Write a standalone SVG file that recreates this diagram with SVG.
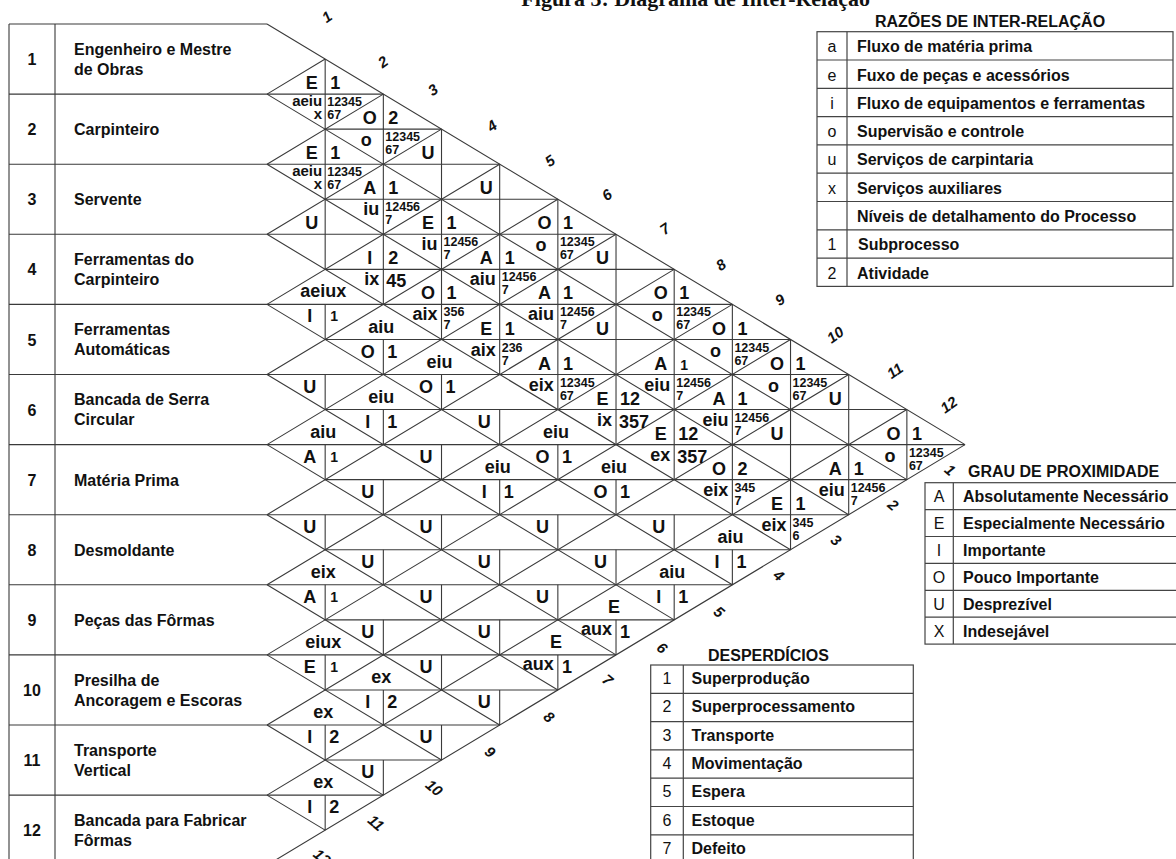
<svg xmlns="http://www.w3.org/2000/svg" width="1176" height="859" viewBox="0 0 1176 859">
<style>
.ln{stroke:#3a3a3a;stroke-width:1.1;fill:none}
.tb{stroke:#444;stroke-width:1.2;fill:none}
text{font-family:"Liberation Sans",Arial,sans-serif;font-weight:bold;fill:#111}
.lb{font-size:16px}
.nm{font-size:16px;text-anchor:middle}
.g{font-size:18px;text-anchor:middle}
.gs{font-size:14px;text-anchor:middle}
.r{font-size:18px;text-anchor:end}
.r2{font-size:15px;text-anchor:end}
.rc{font-size:18px;text-anchor:middle}
.w{font-size:12.5px}
.wb{font-size:18px}
.lk{font-size:16px;font-weight:normal;text-anchor:middle}
.en{font-size:15px;font-style:italic;text-anchor:middle}
.ti{font-family:"Liberation Serif","Times New Roman",serif;font-size:22px;text-anchor:end}
</style>
<rect width="1176" height="859" fill="#fff"/>
<text class="ti" x="870" y="6">Figura 3: Diagrama de Inter-Relação</text>

<!-- grid of the relationship triangle and the activity table -->
<g id="connectors">
<path class="ln" d="M9 24H267M9 94.1H383.34M325.17 129.15H441.51M9 164.2H499.68M325.17 199.25H557.85M9 234.3H616.02M325.17 269.35H674.19M9 304.4H732.36M325.17 339.45H790.53M9 374.5H848.7M325.17 409.55H906.87M9 444.6H965.04M325.17 479.65H906.87M9 514.7H848.7M325.17 549.75H790.53M9 584.8H732.36M325.17 619.85H674.19M9 654.9H616.02M325.17 689.95H557.85M9 725H499.68M325.17 760.05H441.51M9 795.1H383.34M9 865.2H267"/>
<path class="ln" d="M9 24V866M55 24V866"/>
<path class="ln" d="M267 24L965.04 444.6M267 94.1L906.87 479.65M267 164.2L848.7 514.7M267 234.3L790.53 549.75M267 304.4L732.36 584.8M267 374.5L674.19 619.85M267 444.6L616.02 654.9M267 514.7L557.85 689.95M267 584.8L499.68 725M267 654.9L441.51 760.05M267 725L383.34 795.1M267 795.1L325.17 830.15"/>
<path class="ln" d="M267 94.1L325.17 59.05M267 164.2L383.34 94.1M267 234.3L441.51 129.15M267 304.4L499.68 164.2M267 374.5L557.85 199.25M267 444.6L616.02 234.3M267 514.7L674.19 269.35M267 584.8L732.36 304.4M267 654.9L790.53 339.45M267 725L848.7 374.5M267 795.1L906.87 409.55M267 865.2L965.04 444.6"/>
<path class="ln" d="M325.17 59.05V269.35M325.17 304.4V339.45M325.17 374.5V409.55M325.17 444.6V479.65M325.17 514.7V549.75M325.17 584.8V619.85M325.17 654.9V689.95M325.17 725V760.05M325.17 795.1V830.15
M383.34 94.1V304.4M383.34 339.45V374.5M383.34 409.55V444.6M383.34 479.65V514.7M383.34 549.75V584.8M383.34 619.85V654.9M383.34 689.95V725M383.34 760.05V795.1
M441.51 129.15V339.45M441.51 374.5V409.55M441.51 444.6V479.65M441.51 514.7V549.75M441.51 584.8V619.85M441.51 654.9V689.95M441.51 725V760.05
M499.68 164.2V374.5M499.68 409.55V444.6M499.68 479.65V514.7M499.68 549.75V584.8M499.68 619.85V654.9M499.68 689.95V725
M557.85 199.25V409.55M557.85 444.6V479.65M557.85 514.7V549.75M557.85 584.8V619.85M557.85 654.9V689.95
M616.02 234.3V444.6M616.02 479.65V514.7M616.02 549.75V584.8M616.02 619.85V654.9
M674.19 269.35V479.65M674.19 514.7V549.75M674.19 584.8V619.85
M732.36 304.4V514.7M732.36 549.75V584.8
M790.53 339.45V549.75M848.7 374.5V514.7M906.87 409.55V479.65"/>
</g>

<!-- activities -->
<g id="act-1"><text class="nm" x="32" y="65">1</text><text class="lb" x="74" y="54.5">Engenheiro e Mestre</text><text class="lb" x="74" y="74.5">de Obras</text></g>
<g id="act-2"><text class="nm" x="32" y="135.2">2</text><text class="lb" x="74" y="135.2">Carpinteiro</text></g>
<g id="act-3"><text class="nm" x="32" y="205.3">3</text><text class="lb" x="74" y="205.3">Servente</text></g>
<g id="act-4"><text class="nm" x="32" y="275.4">4</text><text class="lb" x="74" y="264.9">Ferramentas do</text><text class="lb" x="74" y="284.9">Carpinteiro</text></g>
<g id="act-5"><text class="nm" x="32" y="345.5">5</text><text class="lb" x="74" y="335">Ferramentas</text><text class="lb" x="74" y="355">Automáticas</text></g>
<g id="act-6"><text class="nm" x="32" y="415.6">6</text><text class="lb" x="74" y="405.1">Bancada de Serra</text><text class="lb" x="74" y="425.1">Circular</text></g>
<g id="act-7"><text class="nm" x="32" y="485.7">7</text><text class="lb" x="74" y="485.7">Matéria Prima</text></g>
<g id="act-8"><text class="nm" x="32" y="555.8">8</text><text class="lb" x="74" y="555.8">Desmoldante</text></g>
<g id="act-9"><text class="nm" x="32" y="625.9">9</text><text class="lb" x="74" y="625.9">Peças das Fôrmas</text></g>
<g id="act-10"><text class="nm" x="32" y="696">10</text><text class="lb" x="74" y="685.5">Presilha de</text><text class="lb" x="74" y="705.5">Ancoragem e Escoras</text></g>
<g id="act-11"><text class="nm" x="32" y="766.1">11</text><text class="lb" x="74" y="755.6">Transporte</text><text class="lb" x="74" y="775.6">Vertical</text></g>
<g id="act-12"><text class="nm" x="32" y="836.2">12</text><text class="lb" x="74" y="825.7">Bancada para Fabricar</text><text class="lb" x="74" y="845.7">Fôrmas</text></g>

<!-- relationship cells, rows 1-3: grade | level over reasons | wastes -->
<g id="rel-1-2"><text class="g" x="311.7" y="89.1">E</text><text class="g" x="335.2" y="89.1">1</text><text class="r2" x="322.2" y="105.6">aeiu</text><text class="r2" x="322.2" y="118.6">x</text><text class="w" x="327.2" y="106.1">12345</text><text class="w" x="327.2" y="119.1">67</text></g>
<g id="rel-1-3"><text class="g" x="369.8" y="124.2">O</text><text class="g" x="393.3" y="124.2">2</text><text class="g" x="366.3" y="146.2">o</text><text class="w" x="385.3" y="141.2">12345</text><text class="w" x="385.3" y="154.2">67</text></g>
<g id="rel-1-4"><text class="g" x="428" y="159.2">U</text></g>
<g id="rel-1-5"><text class="g" x="486.2" y="194.3">U</text></g>
<g id="rel-1-6"><text class="g" x="544.4" y="229.3">O</text><text class="g" x="567.9" y="229.3">1</text><text class="g" x="540.9" y="251.3">o</text><text class="w" x="559.9" y="246.3">12345</text><text class="w" x="559.9" y="259.3">67</text></g>
<g id="rel-1-7"><text class="g" x="602.5" y="264.4">U</text></g>
<g id="rel-1-8"><text class="g" x="660.7" y="299.4">O</text><text class="g" x="684.2" y="299.4">1</text><text class="g" x="657.2" y="321.4">o</text><text class="w" x="676.2" y="316.4">12345</text><text class="w" x="676.2" y="329.4">67</text></g>
<g id="rel-1-9"><text class="g" x="718.9" y="334.5">O</text><text class="g" x="742.4" y="334.5">1</text><text class="g" x="715.4" y="356.5">o</text><text class="w" x="734.4" y="351.5">12345</text><text class="w" x="734.4" y="364.5">67</text></g>
<g id="rel-1-10"><text class="g" x="777" y="369.5">O</text><text class="g" x="800.5" y="369.5">1</text><text class="g" x="773.5" y="391.5">o</text><text class="w" x="792.5" y="386.5">12345</text><text class="w" x="792.5" y="399.5">67</text></g>
<g id="rel-1-11"><text class="g" x="835.2" y="404.6">U</text></g>
<g id="rel-1-12"><text class="g" x="893.4" y="439.6">O</text><text class="g" x="916.9" y="439.6">1</text><text class="g" x="889.9" y="461.6">o</text><text class="w" x="908.9" y="456.6">12345</text><text class="w" x="908.9" y="469.6">67</text></g>

<g id="rel-2-3"><text class="g" x="311.7" y="159.2">E</text><text class="g" x="335.2" y="159.2">1</text><text class="r2" x="322.2" y="175.7">aeiu</text><text class="r2" x="322.2" y="188.7">x</text><text class="w" x="327.2" y="176.2">12345</text><text class="w" x="327.2" y="189.2">67</text></g>
<g id="rel-2-4"><text class="g" x="369.8" y="194.3">A</text><text class="g" x="393.3" y="194.3">1</text><text class="r" x="379.3" y="215.3">iu</text><text class="w" x="385.3" y="211.3">12456</text><text class="w" x="385.3" y="224.3">7</text></g>
<g id="rel-2-5"><text class="g" x="428" y="229.3">E</text><text class="g" x="451.5" y="229.3">1</text><text class="r" x="437.5" y="250.3">iu</text><text class="w" x="443.5" y="246.3">12456</text><text class="w" x="443.5" y="259.3">7</text></g>
<g id="rel-2-6"><text class="g" x="486.2" y="264.4">A</text><text class="g" x="509.7" y="264.4">1</text><text class="r" x="495.7" y="285.4">aiu</text><text class="w" x="501.7" y="281.4">12456</text><text class="w" x="501.7" y="294.4">7</text></g>
<g id="rel-2-7"><text class="g" x="544.4" y="299.4">A</text><text class="g" x="567.9" y="299.4">1</text><text class="r" x="553.9" y="320.4">aiu</text><text class="w" x="559.9" y="316.4">12456</text><text class="w" x="559.9" y="329.4">7</text></g>
<g id="rel-2-8"><text class="g" x="602.5" y="334.5">U</text></g>
<g id="rel-2-9"><text class="g" x="660.7" y="369.5">A</text><text class="gs" x="684.2" y="369.5">1</text><text class="r" x="670.2" y="390.5">eiu</text><text class="w" x="676.2" y="386.5">12456</text><text class="w" x="676.2" y="399.5">7</text></g>
<g id="rel-2-10"><text class="g" x="718.9" y="404.6">A</text><text class="g" x="742.4" y="404.6">1</text><text class="r" x="728.4" y="425.6">eiu</text><text class="w" x="734.4" y="421.6">12456</text><text class="w" x="734.4" y="434.6">7</text></g>
<g id="rel-2-11"><text class="g" x="777" y="439.6">U</text></g>
<g id="rel-2-12"><text class="g" x="835.2" y="474.7">A</text><text class="g" x="858.7" y="474.7">1</text><text class="r" x="844.7" y="495.7">eiu</text><text class="w" x="850.7" y="491.7">12456</text><text class="w" x="850.7" y="504.7">7</text></g>

<g id="rel-3-4"><text class="g" x="311.7" y="229.3">U</text></g>
<g id="rel-3-5"><text class="g" x="369.8" y="264.4">I</text><text class="g" x="393.3" y="264.4">2</text><text class="r" x="379.3" y="285.4">ix</text><text class="wb" x="386.3" y="287.4">45</text></g>
<g id="rel-3-6"><text class="g" x="428" y="299.4">O</text><text class="g" x="451.5" y="299.4">1</text><text class="r" x="437.5" y="320.4">aix</text><text class="w" x="443.5" y="316.4">356</text><text class="w" x="443.5" y="329.4">7</text></g>
<g id="rel-3-7"><text class="g" x="486.2" y="334.5">E</text><text class="g" x="509.7" y="334.5">1</text><text class="r" x="495.7" y="355.5">aix</text><text class="w" x="501.7" y="351.5">236</text><text class="w" x="501.7" y="364.5">7</text></g>
<g id="rel-3-8"><text class="g" x="544.4" y="369.5">A</text><text class="g" x="567.9" y="369.5">1</text><text class="r" x="553.9" y="390.5">eix</text><text class="w" x="559.9" y="386.5">12345</text><text class="w" x="559.9" y="399.5">67</text></g>
<g id="rel-3-9"><text class="g" x="602.5" y="404.6">E</text><text class="g" x="630" y="404.6">12</text><text class="r" x="612" y="425.6">ix</text><text class="wb" x="619" y="427.6">357</text></g>
<g id="rel-3-10"><text class="g" x="660.7" y="439.6">E</text><text class="g" x="688.2" y="439.6">12</text><text class="r" x="670.2" y="460.6">ex</text><text class="wb" x="677.2" y="462.6">357</text></g>
<g id="rel-3-11"><text class="g" x="718.9" y="474.7">O</text><text class="g" x="742.4" y="474.7">2</text><text class="r" x="728.4" y="495.7">eix</text><text class="w" x="734.4" y="491.7">345</text><text class="w" x="734.4" y="504.7">7</text></g>
<g id="rel-3-12"><text class="g" x="777" y="509.7">E</text><text class="g" x="800.5" y="509.7">1</text><text class="r" x="786.5" y="530.7">eix</text><text class="w" x="792.5" y="526.7">345</text><text class="w" x="792.5" y="539.7">6</text></g>

<!-- relationship cells, rows 4-11: reasons over grade | level -->
<g id="rel-4-5"><text class="rc" x="323.2" y="297.4">aeiux</text><text class="g" x="309.7" y="322.4">I</text><text class="gs" x="334.2" y="321.4">1</text></g>
<g id="rel-4-6"><text class="rc" x="381.3" y="332.5">aiu</text><text class="g" x="367.8" y="357.5">O</text><text class="g" x="392.3" y="357.5">1</text></g>
<g id="rel-4-7"><text class="rc" x="439.5" y="367.5">eiu</text><text class="g" x="426" y="392.5">O</text><text class="g" x="450.5" y="392.5">1</text></g>
<g id="rel-4-8"><text class="g" x="484.2" y="427.6">U</text></g>
<g id="rel-4-9"><text class="rc" x="555.9" y="437.6">eiu</text><text class="g" x="542.4" y="462.6">O</text><text class="g" x="566.9" y="462.6">1</text></g>
<g id="rel-4-10"><text class="rc" x="614" y="472.7">eiu</text><text class="g" x="600.5" y="497.7">O</text><text class="g" x="625" y="497.7">1</text></g>
<g id="rel-4-11"><text class="g" x="658.7" y="532.7">U</text></g>
<g id="rel-4-12"><text class="rc" x="730.4" y="542.8">aiu</text><text class="g" x="716.9" y="567.8">I</text><text class="g" x="741.4" y="567.8">1</text></g>
<g id="rel-5-6"><text class="g" x="309.7" y="392.5">U</text></g>
<g id="rel-5-7"><text class="rc" x="381.3" y="402.6">eiu</text><text class="g" x="367.8" y="427.6">I</text><text class="g" x="392.3" y="427.6">1</text></g>
<g id="rel-5-8"><text class="g" x="426" y="462.6">U</text></g>
<g id="rel-5-9"><text class="rc" x="497.7" y="472.7">eiu</text><text class="g" x="484.2" y="497.7">I</text><text class="g" x="508.7" y="497.7">1</text></g>
<g id="rel-5-10"><text class="g" x="542.4" y="532.7">U</text></g>
<g id="rel-5-11"><text class="g" x="600.5" y="567.8">U</text></g>
<g id="rel-5-12"><text class="rc" x="672.2" y="577.8">aiu</text><text class="g" x="658.7" y="602.8">I</text><text class="g" x="683.2" y="602.8">1</text></g>
<g id="rel-6-7"><text class="rc" x="323.2" y="437.6">aiu</text><text class="g" x="309.7" y="462.6">A</text><text class="gs" x="334.2" y="461.6">1</text></g>
<g id="rel-6-8"><text class="g" x="367.8" y="497.7">U</text></g>
<g id="rel-6-9"><text class="g" x="426" y="532.7">U</text></g>
<g id="rel-6-10"><text class="g" x="484.2" y="567.8">U</text></g>
<g id="rel-6-11"><text class="g" x="542.4" y="602.8">U</text></g>
<g id="rel-6-12"><text class="rc" x="614" y="612.9">E</text><text class="r" x="612" y="634.9">aux</text><text class="g" x="625" y="637.9">1</text></g>
<g id="rel-7-8"><text class="g" x="309.7" y="532.7">U</text></g>
<g id="rel-7-9"><text class="g" x="367.8" y="567.8">U</text></g>
<g id="rel-7-10"><text class="g" x="426" y="602.8">U</text></g>
<g id="rel-7-11"><text class="g" x="484.2" y="637.9">U</text></g>
<g id="rel-7-12"><text class="rc" x="555.9" y="647.9">E</text><text class="r" x="553.9" y="669.9">aux</text><text class="g" x="566.9" y="672.9">1</text></g>
<g id="rel-8-9"><text class="rc" x="323.2" y="577.8">eix</text><text class="g" x="309.7" y="602.8">A</text><text class="gs" x="334.2" y="601.8">1</text></g>
<g id="rel-8-10"><text class="g" x="367.8" y="637.9">U</text></g>
<g id="rel-8-11"><text class="g" x="426" y="672.9">U</text></g>
<g id="rel-8-12"><text class="g" x="484.2" y="708">U</text></g>
<g id="rel-9-10"><text class="rc" x="323.2" y="647.9">eiux</text><text class="g" x="309.7" y="672.9">E</text><text class="gs" x="334.2" y="671.9">1</text></g>
<g id="rel-9-11"><text class="rc" x="381.3" y="683">ex</text><text class="g" x="367.8" y="708">I</text><text class="g" x="392.3" y="708">2</text></g>
<g id="rel-9-12"><text class="g" x="426" y="743">U</text></g>
<g id="rel-10-11"><text class="rc" x="323.2" y="718">ex</text><text class="g" x="309.7" y="743">I</text><text class="g" x="334.2" y="743">2</text></g>
<g id="rel-10-12"><text class="g" x="367.8" y="778.1">U</text></g>
<g id="rel-11-12"><text class="rc" x="323.2" y="788.1">ex</text><text class="g" x="309.7" y="813.1">I</text><text class="g" x="334.2" y="813.1">2</text></g>

<!-- edge numbering -->
<g id="edge-top">
<text class="en" transform="translate(327 17) rotate(-35)" y="5">1</text>
<text class="en" transform="translate(383 62) rotate(-35)" y="5">2</text>
<text class="en" transform="translate(433 90) rotate(-35)" y="5">3</text>
<text class="en" transform="translate(492 126) rotate(-35)" y="5">4</text>
<text class="en" transform="translate(550 161) rotate(-35)" y="5">5</text>
<text class="en" transform="translate(607 195) rotate(-35)" y="5">6</text>
<text class="en" transform="translate(665 229) rotate(-35)" y="5">7</text>
<text class="en" transform="translate(721 265) rotate(-35)" y="5">8</text>
<text class="en" transform="translate(780 300) rotate(-35)" y="5">9</text>
<text class="en" transform="translate(835.5 335) rotate(-35)" y="5">10</text>
<text class="en" transform="translate(895 371) rotate(-35)" y="5">11</text>
<text class="en" transform="translate(949 405) rotate(-35)" y="5">12</text>
</g>
<g id="edge-bottom">
<text class="en" transform="translate(950 470) rotate(40)" y="5">1</text>
<text class="en" transform="translate(892.9 505.2) rotate(40)" y="5">2</text>
<text class="en" transform="translate(835.8 540.4) rotate(40)" y="5">3</text>
<text class="en" transform="translate(778.7 575.6) rotate(40)" y="5">4</text>
<text class="en" transform="translate(719 612) rotate(40)" y="5">5</text>
<text class="en" transform="translate(662 648) rotate(40)" y="5">6</text>
<text class="en" transform="translate(607.4 680) rotate(40)" y="5">7</text>
<text class="en" transform="translate(549 717) rotate(40)" y="5">8</text>
<text class="en" transform="translate(490 752) rotate(40)" y="5">9</text>
<text class="en" transform="translate(434 788) rotate(40)" y="5">10</text>
<text class="en" transform="translate(376 823) rotate(40)" y="5">11</text>
<text class="en" transform="translate(321.9 857.2) rotate(40)" y="5">12</text>
</g>

<!-- legend: reasons -->
<g id="legend-reasons">
<text class="lb" x="990" y="27" text-anchor="middle">RAZÕES DE INTER-RELAÇÃO</text>
<rect class="tb" x="817" y="31.7" width="356" height="254.7"/>
<path class="tb" d="M847 31.7V286.4M817 60H1173M817 88.3H1173M817 116.6H1173M817 144.9H1173M817 173.2H1173M817 201.5H1173M817 229.8H1173M817 258.1H1173"/>
<text class="lk" x="832" y="52.2">a</text><text class="lb" x="857" y="52.2">Fluxo de matéria prima</text>
<text class="lk" x="832" y="80.5">e</text><text class="lb" x="857" y="80.5">Fuxo de peças e acessórios</text>
<text class="lk" x="832" y="108.8">i</text><text class="lb" x="857" y="108.8">Fluxo de equipamentos e ferramentas</text>
<text class="lk" x="832" y="137.1">o</text><text class="lb" x="857" y="137.1">Supervisão e controle</text>
<text class="lk" x="832" y="165.4">u</text><text class="lb" x="857" y="165.4">Serviços de carpintaria</text>
<text class="lk" x="832" y="193.7">x</text><text class="lb" x="857" y="193.7">Serviços auxiliares</text>
<text class="lb" x="857" y="222">Níveis de detalhamento do Processo</text>
<text class="lk" x="832" y="250.3">1</text><text class="lb" x="858" y="250.3">Subprocesso</text>
<text class="lk" x="832" y="278.6">2</text><text class="lb" x="857" y="278.6">Atividade</text>
</g>

<!-- legend: closeness -->
<g id="legend-closeness">
<text class="lb" x="968" y="477">GRAU DE PROXIMIDADE</text>
<rect class="tb" x="925" y="482.7" width="260" height="161.4"/>
<path class="tb" d="M953.3 482.7V644.1M925 509.6H1185M925 536.5H1185M925 563.4H1185M925 590.3H1185M925 617.2H1185"/>
<text class="lk" x="939" y="502.2">A</text><text class="lb" x="963" y="502.2">Absolutamente Necessário</text>
<text class="lk" x="939" y="529.1">E</text><text class="lb" x="963" y="529.1">Especialmente Necessário</text>
<text class="lk" x="939" y="556">I</text><text class="lb" x="963" y="556">Importante</text>
<text class="lk" x="939" y="582.9">O</text><text class="lb" x="963" y="582.9">Pouco Importante</text>
<text class="lk" x="939" y="609.8">U</text><text class="lb" x="963" y="609.8">Desprezível</text>
<text class="lk" x="939" y="636.7">X</text><text class="lb" x="963" y="636.7">Indesejável</text>
</g>

<!-- legend: wastes -->
<g id="legend-wastes">
<text class="lb" x="708" y="661">DESPERDÍCIOS</text>
<rect class="tb" x="650.7" y="665" width="262.6" height="198.1"/>
<path class="tb" d="M683.3 665V863.1M650.7 693.3H913.3M650.7 721.6H913.3M650.7 749.9H913.3M650.7 778.2H913.3M650.7 806.5H913.3M650.7 834.8H913.3"/>
<text class="lk" x="667" y="684">1</text><text class="lb" x="691.5" y="684">Superprodução</text>
<text class="lk" x="667" y="712.3">2</text><text class="lb" x="691.5" y="712.3">Superprocessamento</text>
<text class="lk" x="667" y="740.6">3</text><text class="lb" x="691.5" y="740.6">Transporte</text>
<text class="lk" x="667" y="768.9">4</text><text class="lb" x="691.5" y="768.9">Movimentação</text>
<text class="lk" x="667" y="797.2">5</text><text class="lb" x="691.5" y="797.2">Espera</text>
<text class="lk" x="667" y="825.5">6</text><text class="lb" x="691.5" y="825.5">Estoque</text>
<text class="lk" x="667" y="853.8">7</text><text class="lb" x="691.5" y="853.8">Defeito</text>
</g>
</svg>
